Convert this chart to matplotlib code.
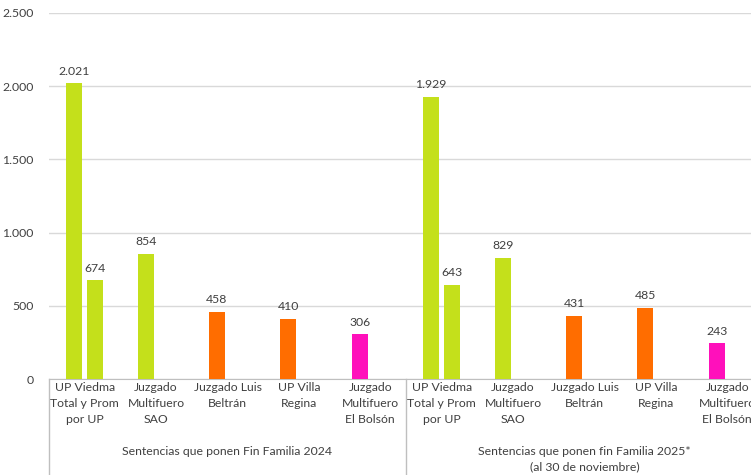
import matplotlib
matplotlib.use('Agg')
import matplotlib.pyplot as plt
from matplotlib.transforms import blended_transform_factory
import numpy as np

plt.rcParams['font.family'] = ['Lato', 'DejaVu Sans']

categories = ['UP Viedma\nTotal y Prom\npor UP', 'Juzgado\nMultifuero\nSAO', 'Juzgado Luis\nBeltrán',
              'UP Villa\nRegina', 'Juzgado\nMultifuero\nEl Bolsón'] * 2
groups = ['Sentencias que ponen Fin Familia 2024',
          'Sentencias que ponen fin Familia 2025*\n(al 30 de noviembre)']
totals = [2021, 854, 458, 410, 306, 1929, 829, 431, 485, 243]
promedio = [674, None, None, None, None, 643, None, None, None, None]
colors = ['#C4E01B', '#C4E01B', '#FF6D00', '#FF6D00', '#FF10BB'] * 2

fs = 8.8
txt = '#404040'

fig = plt.figure(figsize=(7.51, 4.75), dpi=100)
ax = fig.add_axes([49 / 751, 96 / 475, 714 / 751, 366 / 475])

x = np.arange(len(categories))
off = 0.147
w = 0.224
ax.bar(x - off, totals, width=w, color=colors, zorder=3)
for i, v in enumerate(totals):
    ax.text(x[i] - off, v + 45, f'{v:,}'.replace(',', '.'), ha='center', va='bottom',
            fontsize=fs, color=txt)
px = [x[i] + off for i in range(len(promedio)) if promedio[i] is not None]
pv = [p for p in promedio if p is not None]
ax.bar(px, pv, width=w, color='#C4E01B', zorder=3)
for xx, v in zip(px, pv):
    ax.text(xx, v + 45, f'{v:,}'.replace(',', '.'), ha='center', va='bottom',
            fontsize=fs, color=txt)

ax.set_xlim(-0.5, 9.5)
ax.set_ylim(0, 2500)
ax.set_yticks(range(0, 2501, 500))
ax.set_yticklabels([f'{t:,}'.replace(',', '.') for t in range(0, 2501, 500)],
                   fontsize=fs, color=txt)
ax.tick_params(axis='y', length=0, pad=11)
ax.set_xticks([])
ax.grid(axis='y', color='#D9D9D9', linewidth=1, zorder=0)
for s in ['top', 'right', 'left']:
    ax.spines[s].set_visible(False)
ax.spines['bottom'].set_color('#BFBFBF')

tr = blended_transform_factory(ax.transData, ax.transAxes)
for i, lab in enumerate(categories):
    ax.text(x[i], -0.008, lab, transform=tr, ha='center', va='top', fontsize=fs,
            color=txt, linespacing=1.55, clip_on=False)
for g, lab in enumerate(groups):
    ax.text(2 + 5 * g, -0.183, lab, transform=tr, ha='center', va='top', fontsize=fs,
            color=txt, linespacing=1.45, clip_on=False)
for b in [-0.5, 4.5]:
    ax.plot([b, b], [0, -0.27], transform=tr, color='#BFBFBF', linewidth=1, clip_on=False)

fig.savefig('out.png', dpi=100)
